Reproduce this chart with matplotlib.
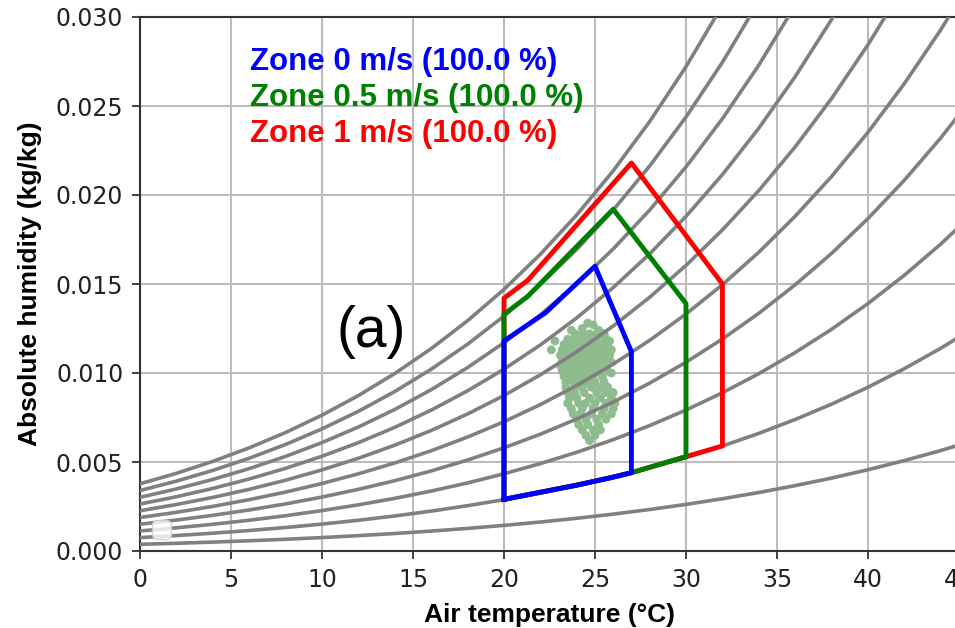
import matplotlib
matplotlib.use("Agg")
import matplotlib.pyplot as plt
import numpy as np

# ---------------- data ----------------
# saturation vapour pressure table (kPa) vs air temperature (degC)
sat_temp = [0, 2, 4, 6, 8, 10, 12, 14, 16, 18, 20, 22, 24, 26, 28, 30,
            32, 34, 36, 38, 40, 42, 44, 46, 48]
sat_press = [0.6113, 0.7060, 0.8135, 0.9353, 1.0729, 1.2282, 1.4028, 1.5989,
             1.8187, 2.0647, 2.3392, 2.6452, 2.9856, 3.3637, 3.7828, 4.2467,
             4.7592, 5.3246, 5.9479, 6.6315, 7.3844, 8.2096, 9.1118, 10.0977,
             11.1735]
rh_levels = [0.1, 0.2, 0.3, 0.4, 0.5, 0.6, 0.7, 0.8, 0.9, 1.0]
p_atm = 101.325

# comfort zones (temperature, absolute humidity)
zone0_t = [20, 20, 22.3, 25, 27, 27, 26, 24, 22, 20]
zone0_w = [0.0029, 0.0118, 0.0134, 0.0160, 0.0112, 0.0044, 0.00415, 0.0037, 0.0033, 0.0029]
zone05_t = [20, 20, 21.3, 26, 30, 30, 28, 27, 26, 24, 22, 20]
zone05_w = [0.0029, 0.0133, 0.0143, 0.0192, 0.0139, 0.0053, 0.0047, 0.0044, 0.00415, 0.0037, 0.0033, 0.0029]
zone1_t = [20, 20, 21.3, 27, 32, 32, 30, 28, 27, 26, 24, 22, 20]
zone1_w = [0.0029, 0.0142, 0.0152, 0.0218, 0.0150, 0.0059, 0.0053, 0.0047, 0.0044, 0.00415, 0.0037, 0.0033, 0.0029]

zone_labels = ["Zone 0 m/s (100.0 %)", "Zone 0.5 m/s (100.0 %)", "Zone 1 m/s (100.0 %)"]
zone_colors = ["blue", "green", "red"]

# measured points
pts_t = [24.6, 24.9, 24.3, 25.2, 23.7, 22.8, 22.6, 25.5,
         23.9, 24.3, 24.7, 25.1, 25.5, 25.8,
         23.5, 23.9, 24.3, 24.7, 25.1, 25.6, 25.9,
         23.3, 23.7, 24.1, 24.5, 24.9, 25.3, 25.7,
         23.2, 23.6, 24.0, 24.4, 24.8, 25.2, 25.6, 25.9,
         23.1, 23.5, 23.9, 24.3, 24.7, 25.1, 25.5, 25.8,
         23.2, 23.6, 24.0, 24.4, 24.8, 25.2, 25.6, 25.9,
         23.1, 23.5, 23.9, 24.3, 24.7, 25.1, 25.5,
         23.2, 23.6, 24.0, 24.4, 24.8, 25.2, 25.7,
         23.3, 23.7, 24.1, 24.5, 24.9, 25.4,
         23.4, 23.8, 24.2, 24.6, 25.0, 25.5,
         23.4, 23.9, 24.3, 24.8, 25.3, 25.7,
         23.5, 23.9, 24.4, 25.1, 25.6, 26.0,
         23.6, 24.0, 24.7, 25.3, 25.9,
         23.5, 24.1, 24.5, 25.0, 25.6, 26.1,
         23.7, 24.3, 24.9, 25.5, 26.0,
         23.8, 24.2, 24.8, 25.4, 25.9,
         24.0, 24.5, 25.1, 25.6,
         24.1, 24.6, 25.2,
         24.3, 24.9, 25.3,
         24.5, 25.0,
         24.7]
pts_w = [0.0128, 0.0127, 0.0125, 0.0124, 0.0124, 0.0118, 0.0113, 0.0121,
         0.0122, 0.0122, 0.0122, 0.0122, 0.0122, 0.0118,
         0.0119, 0.0119, 0.0119, 0.0119, 0.0119, 0.0119, 0.0113,
         0.0116, 0.0116, 0.0116, 0.0116, 0.0116, 0.0116, 0.0116,
         0.0113, 0.0113, 0.0113, 0.0113, 0.0113, 0.0113, 0.0113, 0.0106,
         0.0110, 0.0110, 0.0110, 0.0110, 0.0110, 0.0110, 0.0110, 0.0110,
         0.0107, 0.0107, 0.0107, 0.0107, 0.0107, 0.0107, 0.0107, 0.0100,
         0.0104, 0.0104, 0.0104, 0.0104, 0.0104, 0.0104, 0.0104,
         0.0101, 0.0101, 0.0101, 0.0101, 0.0101, 0.0101, 0.0101,
         0.0098, 0.0098, 0.0098, 0.0098, 0.0098, 0.0098,
         0.0095, 0.0095, 0.0095, 0.0095, 0.0095, 0.0095,
         0.0092, 0.0092, 0.0092, 0.0092, 0.0092, 0.0092,
         0.0089, 0.0089, 0.0089, 0.0089, 0.0089, 0.0089,
         0.0086, 0.0086, 0.0086, 0.0086, 0.0086,
         0.0083, 0.0083, 0.0083, 0.0083, 0.0083, 0.0083,
         0.0080, 0.0080, 0.0080, 0.0080, 0.0080,
         0.0077, 0.0077, 0.0077, 0.0077, 0.0077,
         0.0074, 0.0074, 0.0074, 0.0074,
         0.0071, 0.0071, 0.0071,
         0.0068, 0.0068, 0.0068,
         0.0065, 0.0065,
         0.0062]

x_ticks = [0, 5, 10, 15, 20, 25, 30, 35, 40, 45]
y_ticks = [0.000, 0.005, 0.010, 0.015, 0.020, 0.025, 0.030]

# ---------------- figure ----------------
plt.rcParams['font.size'] = 17
fig = plt.figure(figsize=(9.55, 6.28), dpi=100)
ax = fig.add_axes([140 / 955, 77 / 628, 819 / 955, 534 / 628])

ax.set_xlim(0, 45)
ax.set_ylim(0, 0.030)
ax.set_xticks(x_ticks)
ax.set_yticks(y_ticks)
ax.set_yticklabels([f"{v:.3f}" for v in y_ticks])
ax.tick_params(labelsize=17, length=6, width=1.2, pad=6, colors='#222222')
ax.grid(True, color='#bcbcbc', linewidth=1.5, zorder=0)
ax.set_axisbelow(True)
for s in ax.spines.values():
    s.set_color('#333333')
    s.set_linewidth(1.5)

# relative humidity curves
st = np.array(sat_temp, dtype=float)
sp = np.array(sat_press, dtype=float)
for rh in rh_levels:
    pv = rh * sp
    w = 0.622 * pv / (p_atm - pv)
    ax.plot(st, w, color='#808080', linewidth=2.6, zorder=3)

# measured points (under the curves)
ax.scatter(pts_t, pts_w, s=40, color='#8fbc8f', edgecolors='none', zorder=2)

# comfort zones
ax.plot(zone1_t, zone1_w, color='red', linewidth=3.5, zorder=4)
ax.plot(zone05_t, zone05_w, color='green', linewidth=3.5, zorder=5)
ax.plot(zone0_t, zone0_w, color='blue', linewidth=3.5, zorder=6)

fam = ['Liberation Sans', 'DejaVu Sans']
for i, (lab, col) in enumerate(zip(zone_labels, zone_colors)):
    ax.text(6.04, [0.0270, 0.0250, 0.0230][i], lab, color=col, fontsize=22.5,
            fontweight='bold', family=fam, va='baseline', ha='left', zorder=7)

ax.text(12.69, 0.01146, "(a)", fontsize=41, family=fam, ha='center',
        va='baseline', zorder=7)

ax.set_xlabel("Air temperature (°C)", fontsize=19, fontweight='bold',
              family=fam, labelpad=8)
ax.set_ylabel("Absolute humidity (kg/kg)", fontsize=19, fontweight='bold',
              family=fam, labelpad=10)

ax.legend(handles=[], loc='lower left', fontsize=17)

fig.savefig("out.png", dpi=100)
